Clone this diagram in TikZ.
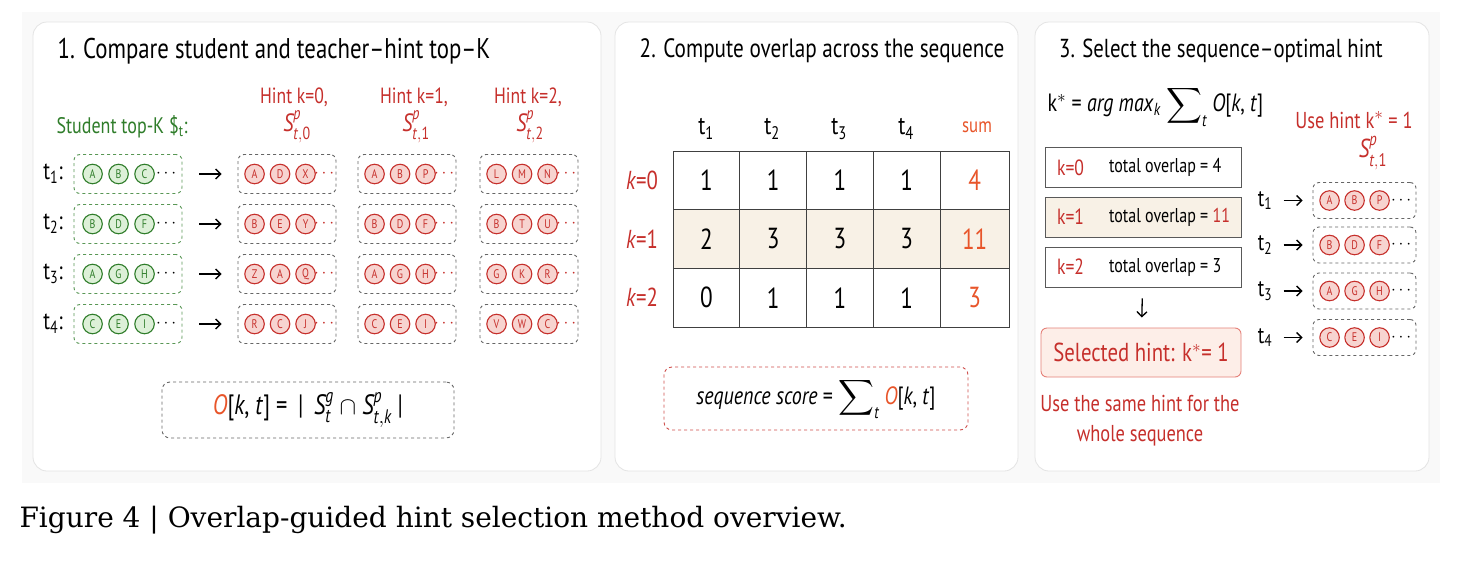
\documentclass[tikz,border=0pt]{standalone}
\usepackage{amsmath}
\usepackage{fontspec}
\setsansfont{PT Sans}[FakeStretch=0.8]
\newfontfamily\capfont{DejaVu Serif}
\usetikzlibrary{arrows.meta}
\definecolor{tred}{HTML}{C62F2B}
\definecolor{tredl}{HTML}{F7D4D0}
\definecolor{tgreen}{HTML}{2F7D2A}
\definecolor{tgreenl}{HTML}{DDF0D8}
\definecolor{torange}{HTML}{E8552A}
\definecolor{beige}{HTML}{F8F1E6}
\definecolor{selfill}{HTML}{FDEEE8}
\definecolor{selline}{HTML}{E58078}
\definecolor{panelline}{HTML}{E4E4E4}
\definecolor{bgc}{HTML}{F9F9F9}
\newcommand\fsz[1]{\fontsize{#1}{#1}\selectfont}
\newcommand\mi[1]{\textit{#1}}
\begin{document}
\begin{tikzpicture}[x=1pt,y=-1pt,font=\sffamily,
  panel/.style={draw=panelline,fill=white,rounded corners=14pt,line width=0.8pt,inner sep=0pt},
  ttl/.style={font=\sffamily\fsz{28.5}},
  tok/.style={circle,inner sep=0pt,minimum size=19.5pt,line width=1.1pt,font=\sffamily\fsz{12.5}},
  gtok/.style={tok,draw=tgreen,fill=tgreenl,text=tgreen},
  rtok/.style={tok,draw=tred,fill=tredl,text=tred},
  sbox/.style={draw=tgreen!80,dashed,rounded corners=6pt,minimum width=108pt,minimum height=39pt,line width=0.9pt,inner sep=0pt},
  hbox/.style={draw=black!60,dashed,rounded corners=6pt,minimum width=98pt,minimum height=39pt,line width=0.9pt,inner sep=0pt},
  rbox/.style={hbox,minimum width=103pt,minimum height=36pt},
  arr/.style={-{Straight Barb[length=5pt,width=10pt]},line width=1.3pt},
  cell/.style={draw=black!75,line width=0.9pt,minimum width=66.8pt,minimum height=58.67pt,inner sep=0pt,font=\sffamily\fsz{29}},
  lbox/.style={draw=black!65,line width=0.9pt,minimum width=196pt,minimum height=40pt,inner sep=0pt},
  dots/.style={font=\sffamily\fsz{17},inner sep=0pt}
]
\useasboundingbox (0,0) rectangle (1470,560);
\fill[bgc] (22,12) rectangle (1440,483);
% panels
\node[panel,minimum width=568pt,minimum height=449pt] (p1) at (317,246.5) {};
\node[panel,minimum width=403pt,minimum height=449pt] (p2) at (816.5,246.5) {};
\node[panel,minimum width=394pt,minimum height=449pt] (p3) at (1232,246.5) {};
% titles
\node[ttl] (t1) at (274,51) {1. Compare student and teacher--hint top--K};
\node[ttl,font=\sffamily\fsz{26.5}] (t2) at (822,51) {2. Compute overlap across the sequence};
\node[ttl,font=\sffamily\fsz{26}] (t3) at (1221,51) {3. Select the sequence--optimal hint};

% ---------------- panel 1
\node[anchor=west,text=tgreen,font=\sffamily\fsz{22.5}] (stl) at (53,127) {Student top-K \$\textsubscript{t}:};
\foreach \n/\cx/\hx/\sx in {0/287/294/297,1/407/414/416,2/529/528/530}{
  \node[text=tred,font=\sffamily\fsz{22}] (hh\n) at (\hx,97) {Hint k=\n,};
  \node[text=tred,font=\sffamily\fsz{25}] (hs\n) at (\sx,127) {$\mi{S}^{\mi{p}}_{\mi{t},\text{\n}}$};
}
\foreach \r/\y/\s/\pa/\pb/\pc in {1/174/{A,B,C}/{A,D,X}/{A,B,P}/{L,M,N},
                                 2/224/{B,D,F}/{B,E,Y}/{B,D,F}/{B,T,U},
                                 3/274/{A,G,H}/{Z,A,Q}/{A,G,H}/{G,K,R},
                                 4/324/{C,E,I}/{R,C,J}/{C,E,I}/{V,W,C}}{
  \node[font=\sffamily\fsz{25}] (lab\r) at (53,\y) {t\textsubscript{\r}:};
  \node[sbox] (sb\r) at (128,\y) {};
  \foreach \l [count=\i] in \s { \node[gtok] at ([xshift={19+(\i-1)*26}]sb\r.west) {\l}; }
  \node[dots] at ([xshift=94]sb\r.west) {$\cdots$};
  \node[hbox] (h0\r) at (287,\y) {};
  \node[hbox] (h1\r) at (407,\y) {};
  \node[hbox] (h2\r) at (529,\y) {};
  \foreach \l [count=\i] in \pa { \node[rtok] at ([xshift={17+(\i-1)*25.5}]h0\r.west) {\l}; }
  \foreach \l [count=\i] in \pb { \node[rtok] at ([xshift={17+(\i-1)*25.5}]h1\r.west) {\l}; }
  \foreach \l [count=\i] in \pc { \node[rtok] at ([xshift={17+(\i-1)*25.5}]h2\r.west) {\l}; }
  \foreach \h in {0,1,2} { \node[dots,text=tred] at ([xshift=88]h\h\r.west) {$\cdots$}; }
  \draw[arr,shorten <=17pt,shorten >=16pt] (sb\r) -- (h0\r);
}
\node[draw=black!60,dashed,rounded corners=8pt,line width=0.9pt,minimum width=292pt,minimum height=56pt,font=\sffamily\fsz{28}] (fo) at (308,410)
  {\textcolor{torange}{\mi{O}}[\mi{k}, \mi{t}] = \,|\, $\mi{S}^{\mi{g}}_{\mi{t}}$ $\cap$ $\mi{S}^{\mi{p}}_{\mi{t},\mi{k}}$ |};

% ---------------- panel 2
\foreach \c/\x in {1/706,2/772,3/839,4/906}{
  \node[font=\sffamily\fsz{26}] (ch\c) at (\x,129) {t\textsubscript{\c}};
}
\node[text=torange,font=\sffamily\fsz{21}] (chs) at (977,127) {sum};
\foreach \k/\y/\a/\b/\c/\d/\s/\f in {0/180.3/1/1/1/1/4/white,1/239/2/3/3/3/11/beige,2/297.7/0/1/1/1/3/white}{
  \node[text=tred,font=\sffamily\fsz{26}] (rk\k) at (642,\y) {\mi{k}=\k};
  \node[cell,fill=\f] (c\k1) at (706.4,\y) {\a};
  \node[cell,fill=\f] (c\k2) at (773.2,\y) {\b};
  \node[cell,fill=\f] (c\k3) at (840,\y) {\c};
  \node[cell,fill=\f] (c\k4) at (906.8,\y) {\d};
  \node[cell,fill=\f,text=torange,minimum width=69pt] (c\k5) at (974.7,\y) {\s};
}
\node[draw=tred!85,dashed,rounded corners=8pt,line width=0.9pt,minimum width=304pt,minimum height=63pt,font=\sffamily\fsz{25}] (sq) at (816,398.5)
  {\mi{sequence score} = $\displaystyle\sum\nolimits_{\mi{t}}$ \textcolor{torange}{\mi{O}}[\mi{k}, \mi{t}]};

% ---------------- panel 3
\node[anchor=west,font=\sffamily\fsz{25}] (ks) at (1044,106)
  {k$^{*}$ = \mi{arg max}$_{\mi{k}}$ $\displaystyle\sum\nolimits_{\mi{t}}$ \mi{O}[\mi{k}, \mi{t}]};
\foreach \k/\y/\v/\f in {0/167.5/4/white,1/217/\textcolor{tred}{11}/beige,2/267/3/white}{
  \node[lbox,fill=\f] (bx\k) at (1143,\y) {};
  \node[anchor=west,text=tred,font=\sffamily\fsz{22}] at ([xshift=9pt]bx\k.west) {k=\k};
  \node[anchor=west,font=\sffamily\fsz{20}] at ([xshift=61pt]bx\k.west) {total overlap = \v};
}
\node[draw=selline,fill=selfill,rounded corners=6pt,line width=0.9pt,minimum width=200pt,minimum height=49pt,text=tred,font=\sffamily\fsz{26}] (sel) at (1141,352.5)
  {Selected hint: k$^{*}$= 1};
\draw[arr,shorten <=11pt,shorten >=10pt] (bx2) -- (sel);
\node[text=tred,font=\sffamily\fsz{23},align=center,inner sep=0pt] (use) at (1140,421) {Use the same hint for the\\[7pt]whole sequence};
\node[text=tred,font=\sffamily\fsz{23}] (uh) at (1354,120) {Use hint k$^{*}$ = 1};
\node[text=tred,font=\sffamily\fsz{26}] (us) at (1373,153) {$\mi{S}^{\mi{p}}_{\mi{t},\text{1}}$};
\foreach \r/\y/\s in {1/200.5/{A,B,P},2/245/{B,D,F},3/291/{A,G,H},4/337.5/{C,E,I}}{
  \node[font=\sffamily\fsz{24}] (rt\r) at (1265,\y) {t\textsubscript{\r}};
  \node[rbox] (rb\r) at (1364.5,\y) {};
  \foreach \l [count=\i] in \s { \node[rtok] at ([xshift={17+(\i-1)*25}]rb\r.west) {\l}; }
  \node[dots] at ([xshift=90]rb\r.west) {$\cdots$};
  \draw[arr,shorten <=8pt,shorten >=10pt] (rt\r) -- (rb\r);
}

% caption
\node[anchor=west,font=\capfont\fsz{28}] (cap) at (16,520) {Figure 4 | Overlap-guided hint selection method overview.};
\end{tikzpicture}
\end{document}
